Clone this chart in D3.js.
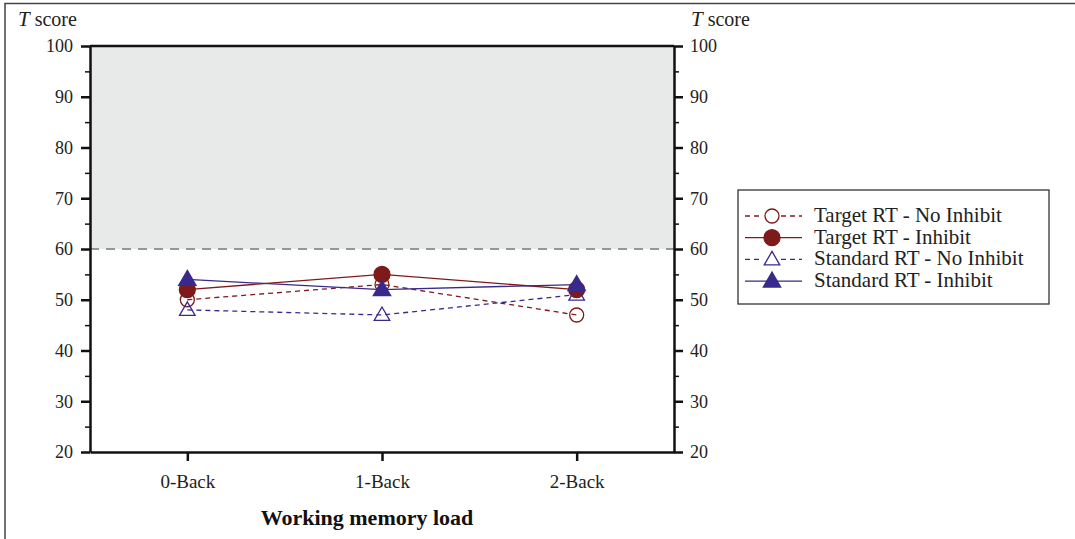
<!DOCTYPE html>
<html>
<head>
<meta charset="utf-8">
<script src="https://cdn.jsdelivr.net/npm/d3@7"></script>
<style>
  body { margin: 0; background: #fff; }
  svg text { font-family: "Liberation Serif", "DejaVu Serif", serif; }
</style>
</head>
<body>
<div id="viz-container"></div>
<script>
'use strict';

// Data.
const loads = ['0-Back', '1-Back', '2-Back'];
const targetNoInhibit = [50, 53, 47];
const targetInhibit = [52, 55, 52];
const standardNoInhibit = [48, 47, 51];
const standardInhibit = [54, 52, 53];
const yTicks = [20, 30, 40, 50, 60, 70, 80, 90, 100];
const yMinorTicks = [25, 35, 45, 55, 65, 75, 85, 95];

const red = '#7f1a1a';
const blue = '#372a8c';

const series = [
    { name: 'Target RT - No Inhibit', values: targetNoInhibit, color: red, dash: '5,4', shape: 'circle', filled: false },
    { name: 'Target RT - Inhibit', values: targetInhibit, color: red, dash: null, shape: 'circle', filled: true },
    { name: 'Standard RT - No Inhibit', values: standardNoInhibit, color: blue, dash: '5,4', shape: 'triangle', filled: false },
    { name: 'Standard RT - Inhibit', values: standardInhibit, color: blue, dash: null, shape: 'triangle', filled: true }
];

const W = 1075, H = 539;
const margin = { top: 46, right: 401, bottom: 87, left: 90 };
const width = W - margin.left - margin.right;
const height = H - margin.top - margin.bottom;

const svg = d3.select('#viz-container')
    .append('svg')
    .attr('width', W)
    .attr('height', H);

// outer frame (top and left only)
svg.append('path')
    .attr('d', 'M5,539 L5,3.5 L1075,3.5')
    .attr('fill', 'none')
    .attr('stroke', '#444')
    .attr('stroke-width', 1.5);

const g = svg.append('g')
    .attr('transform', 'translate(' + margin.left + ',' + margin.top + ')');

const x = d3.scalePoint().domain(loads).range([0, width]).padding(0.5);
const y = d3.scaleLinear().domain([20, 100]).range([height, 0]);

// shaded band above 60
g.append('rect')
    .attr('x', 0).attr('y', y(100))
    .attr('width', width).attr('height', y(60) - y(100))
    .attr('fill', '#e8e9e9');

g.append('line')
    .attr('x1', 0).attr('x2', width)
    .attr('y1', y(60)).attr('y2', y(60))
    .attr('stroke', '#777')
    .attr('stroke-width', 1.3)
    .attr('stroke-dasharray', '9,7');

// axes
function styleAxis(sel, size) {
    sel.attr('font-family', null);
    sel.selectAll('.domain').attr('stroke', '#111').attr('stroke-width', 2.5);
    sel.selectAll('.tick line').attr('stroke', '#111').attr('stroke-width', 2.5);
    sel.selectAll('.tick text').attr('font-size', size).attr('fill', '#222');
}

g.append('g')
    .call(d3.axisLeft(y).tickValues(yTicks).tickSize(9).tickSizeOuter(0).tickPadding(8))
    .call(styleAxis, 18);
g.append('g')
    .attr('transform', 'translate(' + width + ',0)')
    .call(d3.axisRight(y).tickValues(yTicks).tickSize(9).tickSizeOuter(0).tickPadding(7))
    .call(styleAxis, 18);

// minor ticks
g.append('g')
    .call(d3.axisLeft(y).tickValues(yMinorTicks).tickSize(5).tickSizeOuter(0).tickFormat(''))
    .call(s => s.select('.domain').remove())
    .call(s => s.selectAll('.tick line').attr('stroke', '#111').attr('stroke-width', 1.5));
g.append('g')
    .attr('transform', 'translate(' + width + ',0)')
    .call(d3.axisRight(y).tickValues(yMinorTicks).tickSize(5).tickSizeOuter(0).tickFormat(''))
    .call(s => s.select('.domain').remove())
    .call(s => s.selectAll('.tick line').attr('stroke', '#111').attr('stroke-width', 1.5));

g.append('g')
    .attr('transform', 'translate(0,' + height + ')')
    .call(d3.axisBottom(x).tickSize(9).tickSizeOuter(0).tickPadding(14))
    .call(styleAxis, 19);
// top line of the plot box
g.append('line')
    .attr('x1', 0).attr('x2', width).attr('y1', 0).attr('y2', 0)
    .attr('stroke', '#111').attr('stroke-width', 2.5);

// axis titles
function tScore(xp) {
    const t = svg.append('text')
        .attr('x', xp).attr('y', 26)
        .attr('font-size', 20).attr('fill', '#222');
    t.append('tspan').attr('font-style', 'italic').attr('font-size', 21).text('T');
    t.append('tspan').text(' score');
}
tScore(18);
tScore(691);

svg.append('text')
    .attr('x', 367).attr('y', 525)
    .attr('text-anchor', 'middle')
    .attr('font-size', 22)
    .attr('font-weight', 'bold')
    .attr('fill', '#111')
    .text('Working memory load');

// markers
const triangle = d3.symbol().type(d3.symbolTriangle);

function drawMarker(sel, s, cx, cy) {
    if (s.shape === 'circle') {
        sel.append('circle')
            .attr('cx', cx).attr('cy', cy)
            .attr('r', s.filled ? 8 : 7)
            .attr('fill', s.filled ? s.color : 'none')
            .attr('stroke', s.color)
            .attr('stroke-width', 1.3);
    } else {
        sel.append('path')
            .attr('d', triangle.size(s.filled ? 130 : 105)())
            .attr('transform', 'translate(' + cx + ',' + (cy + 1) + ')')
            .attr('fill', s.filled ? s.color : 'none')
            .attr('stroke', s.color)
            .attr('stroke-width', 1.3);
    }
}

const line = d3.line()
    .x((d, i) => x(loads[i]))
    .y(d => y(d));

series.forEach(s => {
    g.append('path')
        .datum(s.values)
        .attr('d', line)
        .attr('fill', 'none')
        .attr('stroke', s.color)
        .attr('stroke-width', 1.3)
        .attr('stroke-dasharray', s.dash);
});
series.forEach(s => {
    s.values.forEach((v, i) => drawMarker(g, s, x(loads[i]), y(v)));
});

// legend
const legend = svg.append('g').attr('transform', 'translate(738,190)');
legend.append('rect')
    .attr('x', 0).attr('y', 0)
    .attr('width', 311).attr('height', 114)
    .attr('fill', '#fff')
    .attr('stroke', '#333')
    .attr('stroke-width', 1.3);

series.forEach((s, i) => {
    const ly = 26 + i * 21.7;
    const row = legend.append('g');
    row.append('line')
        .attr('x1', 7).attr('x2', 64)
        .attr('y1', ly).attr('y2', ly)
        .attr('stroke', s.color)
        .attr('stroke-width', 1.3)
        .attr('stroke-dasharray', s.dash);
    if (!s.filled) {
        row.append('circle').attr('cx', 34).attr('cy', ly).attr('r', 9).attr('fill', '#fff');
    }
    drawMarker(row, s, 34, ly);
    row.append('text')
        .attr('x', 76).attr('y', ly + 6)
        .attr('font-size', 21)
        .attr('fill', '#222')
        .text(s.name);
});
</script>
</body>
</html>
